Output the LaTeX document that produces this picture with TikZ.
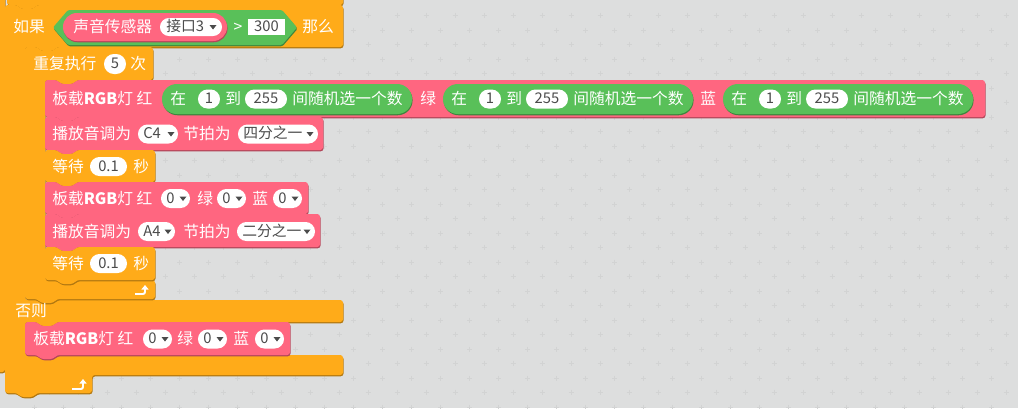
\documentclass[tikz,border=0pt]{standalone}
\usepackage{fontspec}
\setmainfont{Noto Sans CJK SC}
\usepackage{tikz}
\usetikzlibrary{arrows.meta}
\usepackage{xcolor}

\definecolor{ctrl}{RGB}{255,171,25}
\definecolor{robot}{RGB}{255,102,128}
\definecolor{oper}{RGB}{89,192,89}
\definecolor{bg}{RGB}{221,222,222}
\definecolor{plusc}{RGB}{210,211,211}
\definecolor{valgray}{RGB}{75,75,75}

% 堆叠积木：上凹口，下凸起
\newcommand{\stackblk}[5]{%
  \fill[#5, dropsh=#5, rounded corners=2pt] (#1,#4) -- (#1,#2) -- ({#1+12},#2) -- ({#1+16},{#2+4}) -- ({#1+28},{#2+4}) -- ({#1+32},#2) -- (#3,#2) -- (#3,#4) -- ({#1+32},#4) -- ({#1+28},{#4+4}) -- ({#1+16},{#4+4}) -- ({#1+12},#4) -- cycle;}
% 圆角报告积木
\newcommand{\repblk}[5]{%
  \fill[#5, dropsh=#5, rounded corners={(#4-#2)*0.0124cm}] (#1,#2) rectangle (#3,#4);}
% 白色输入框
\newcommand{\fldblk}[4]{%
  \fill[white, rounded corners={(#4-#2)*0.0124cm}] (#1,#2) rectangle (#3,#4);}
% 下拉三角
\newcommand{\dropmark}[2]{%
  \fill[valgray] ({#1-3.5},{#2-2}) -- ({#1+3.5},{#2-2}) -- (#1,{#2+2.5}) -- cycle;}

\begin{document}
\begin{tikzpicture}[x=0.025cm, y=-0.025cm,
    dropsh/.style={preaction={fill=#1!70!black, transform canvas={xshift=0.4pt, yshift=-0.9pt}}},
    lbl/.style={text=white, anchor=west, inner sep=0pt, text height=9pt, text depth=1pt, font=\fontsize{11.2}{13}\selectfont},
    val/.style={text=valgray, inner sep=0pt, text height=8pt, text depth=1pt, font=\fontsize{10.5}{12}\selectfont}]
    \useasboundingbox (0,0) rectangle (1018,408);
    \clip (0,0) rectangle (1018,408);
    \fill[bg] (0,0) rectangle (1018,408);

    % 背景十字
    \foreach \i in {0,...,35}
      \foreach \j in {0,...,14} {
        \draw[plusc, line width=0.45pt] ({17.5+29*\i},{15+29*\j}) -- ++(5,0) ({20+29*\i},{12.5+29*\j}) -- ++(0,5);
        \draw[plusc, line width=0.45pt] ({32+29*\i},{30+29*\j}) -- ++(5,0) ({34.5+29*\i},{27.5+29*\j}) -- ++(0,5);
      }

    % 外层与上一块
    \fill[ctrl, dropsh=ctrl, rounded corners=2pt] (-10,-10) rectangle (5,372);
    \fill[ctrl, dropsh=ctrl, rounded corners=2pt] (7,-10) -- (343,-10) -- (343,5) -- (37,5) -- (33,9) -- (21,9) -- (17,5) -- (7,5) -- cycle;

    % 如果 … 否则
    \fill[ctrl, dropsh=ctrl, rounded corners=2pt] (5,393) -- (5,5) -- (17,5) -- (21,9) -- (33,9) -- (37,5) -- (343,5) -- (343,47)
      -- (57,47) -- (53,51) -- (41,51) -- (37,47) -- (25,47) -- (25,300) -- (343,300) -- (343,322)
      -- (57,322) -- (53,326) -- (41,326) -- (37,322) -- (25,322) -- (25,355) -- (343,355) -- (343,375)
      -- (92,375) -- (92,393) -- (37,393) -- (33,397) -- (21,397) -- (17,393) -- cycle;

    % 条件
    \fill[oper, dropsh=oper, rounded corners=1pt] (53,27.5) -- (68,10) -- (282,10) -- (297,27.5) -- (282,45) -- (68,45) -- cycle;
    \repblk{63}{13}{227}{41}{robot}
    \fldblk{160}{18}{222}{36}
    \fill[white] (248,19) rectangle (285,35);
    \dropmark{213}{27}

    \node[lbl] (ruguo) at (13,27) {如果};
    \node[lbl] (shengyin) at (73,27) {声音传感器};
    \node[val, anchor=west] (jiekou) at (166,27) {接口3};
    \node[lbl, anchor=center] (dayu) at (238,27) {>};
    \node[val] (yuzhi) at (266.5,27) {300};
    \node[lbl] (name) at (302,27) {那么};

    % 重复执行
    \fill[ctrl, dropsh=ctrl, rounded corners=2pt] (25,299) -- (25,47) -- (37,47) -- (41,51) -- (53,51) -- (57,47) -- (153,47) -- (153,80)
      -- (77,80) -- (73,84) -- (61,84) -- (57,80) -- (45,80) -- (45,280) -- (155,280) -- (155,299)
      -- (57,299) -- (53,303) -- (41,303) -- (37,299) -- cycle;
    \fldblk{104}{54}{126}{74}
    \node[lbl] (chongfu) at (33,64) {重复执行};
    \node[val] (cishu) at (115,64) {5};
    \node[lbl] (ci) at (130,64) {次};

    % 板载RGB灯 随机
    \stackblk{45}{80}{985}{117}{robot}
    \node[lbl] (rgb-a) at (52,99) {板载\textbf{RGB}灯 红};
    \foreach \dx/\k in {0/r, 281/g, 561/b} {
      \repblk{162+\dx}{84}{412+\dx}{114}{oper}
      \fldblk{198+\dx}{89.5}{220+\dx}{108.5}
      \fldblk{245+\dx}{89.5}{287+\dx}{108.5}
      \node[lbl] (zai-\k) at (170+\dx,99) {在};
      \node[val] (lo-\k) at (209+\dx,99) {1};
      \node[lbl] (dao-\k) at (225+\dx,99) {到};
      \node[val] (hi-\k) at (266+\dx,99) {255};
      \node[lbl] (suiji-\k) at (292+\dx,99) {间随机选一个数};
    }
    \node[lbl] (lv-a) at (420,99) {绿};
    \node[lbl] (lan-a) at (700,99) {蓝};

    % 播放 C4
    \stackblk{45}{117}{323}{150}{robot}
    \fldblk{138}{124.5}{178}{143.5}
    \fldblk{238}{124.5}{318}{143.5}
    \dropmark{171}{134}
    \dropmark{310}{134}
    \node[lbl] (bofang-a) at (52,134) {播放音调为};
    \node[val, anchor=west] (yin-a) at (143,134) {C4};
    \node[lbl] (jiepai-a) at (183,134) {节拍为};
    \node[val, anchor=west] (pai-a) at (243,134) {四分之一};

    % 等待
    \stackblk{45}{150}{155}{182}{ctrl}
    \fldblk{90}{157}{127}{176}
    \node[lbl] (dengdai-a) at (52,166.5) {等待};
    \node[val] (miao-a) at (108.5,166.5) {0.1};
    \node[lbl] (s-a) at (133,166.5) {秒};

    % 板载RGB灯 关
    \stackblk{45}{182}{308}{214}{robot}
    \node[lbl] (rgb-b) at (52,198.5) {板载\textbf{RGB}灯 红};
    \foreach \px/\k in {161/r, 217/g, 273/b} {
      \fldblk{\px}{189}{\px+29}{208}
      \dropmark{\px+22}{198.5}
      \node[val] (zero-b-\k) at (\px+9.5,198.5) {0};
    }
    \node[lbl] (lv-b) at (197,198.5) {绿};
    \node[lbl] (lan-b) at (252,198.5) {蓝};

    % 播放 A4
    \stackblk{45}{214}{320}{247}{robot}
    \fldblk{138}{222}{175}{241}
    \fldblk{237}{222}{315}{241}
    \dropmark{168}{231.5}
    \dropmark{307}{231.5}
    \node[lbl] (bofang-b) at (52,231.5) {播放音调为};
    \node[val, anchor=west] (yin-b) at (143,231.5) {A4};
    \node[lbl] (jiepai-b) at (183,231.5) {节拍为};
    \node[val, anchor=west] (pai-b) at (242,231.5) {二分之一};

    % 等待
    \stackblk{45}{247}{155}{280}{ctrl}
    \fldblk{90}{254}{127}{273}
    \node[lbl] (dengdai-b) at (52,263.5) {等待};
    \node[val] (miao-b) at (108.5,263.5) {0.1};
    \node[lbl] (s-b) at (133,263.5) {秒};

    % 循环末尾箭头
    \coordinate (loopend) at (135,294);
    \draw[white, line width=1.4pt, rounded corners=1.5pt, -{Triangle[width=5pt,length=3.2pt]}] (loopend) -- ++(10,0) -- ++(0,-9);

    % 否则
    \node[lbl] (fouze) at (15,311) {否则};
    \stackblk{25}{322}{290}{355}{robot}
    \node[lbl] (rgb-c) at (33,339) {板载\textbf{RGB}灯 红};
    \foreach \px/\k in {143/r, 198/g, 255/b} {
      \fldblk{\px}{329.5}{\px+29}{348.5}
      \dropmark{\px+22}{339}
      \node[val] (zero-c-\k) at (\px+9.5,339) {0};
    }
    \node[lbl] (lv-c) at (177,339) {绿};
    \node[lbl] (lan-c) at (233,339) {蓝};

    % 末尾箭头
    \coordinate (ifend) at (72,389);
    \draw[white, line width=1.4pt, rounded corners=1.5pt, -{Triangle[width=5pt,length=3.2pt]}] (ifend) -- ++(11,0) -- ++(0,-10);
\end{tikzpicture}
\end{document}
